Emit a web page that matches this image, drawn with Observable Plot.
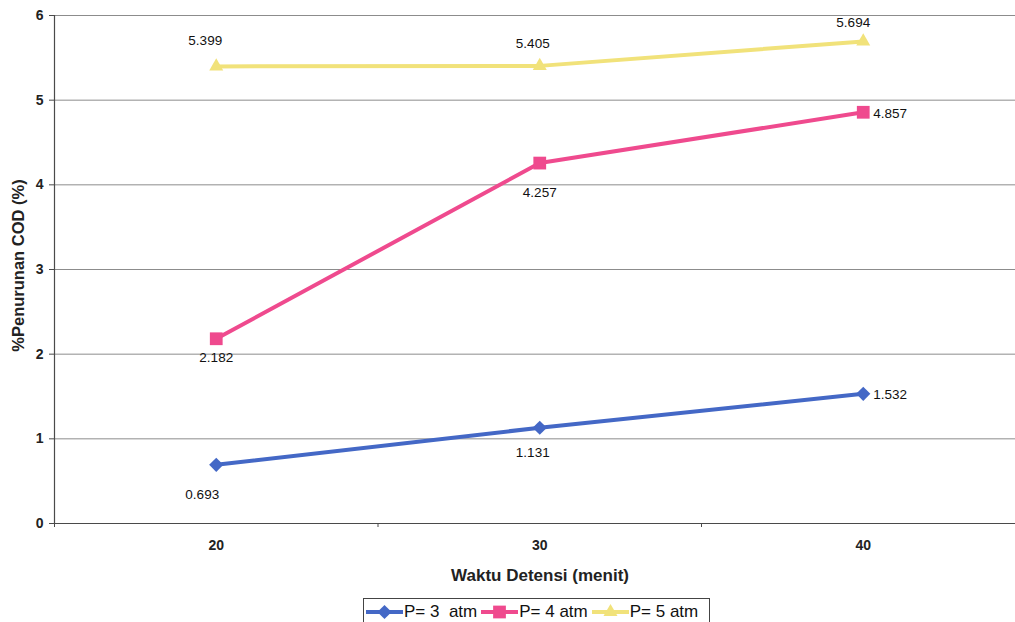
<!DOCTYPE html>
<html>
<head>
<meta charset="utf-8">
<script src="https://cdn.jsdelivr.net/npm/d3@7"></script>
<script src="https://cdn.jsdelivr.net/npm/@observablehq/plot@0.6"></script>
<style>
  body { margin: 0; background: #fff; font-family: "Liberation Sans", Arial, sans-serif; }
  #wrap { position: relative; width: 1015px; height: 622px; overflow: hidden; }
  #legend {
    position: absolute; left: 363px; top: 598px; height: 30px;
    border: 1px solid #444; display: flex; align-items: center;
    padding: 0 0 3px 1px; box-sizing: border-box; width: 347px;
    font-size: 17px; color: #111; white-space: pre;
  }
  #legend .item { display: flex; align-items: center; margin-right: 3px; }
  #legend svg { display: block; }
</style>
</head>
<body>
<div id="wrap">
  <div id="chart"></div>
  <div id="legend"></div>
</div>
<script>
// Waktu detensi (menit) on the x axis
const waktu = [20, 30, 40];
// Series names, one per tekanan
const seriesNames = ["P= 3  atm", "P= 4 atm", "P= 5 atm"];
// % Penurunan COD per series
const p3 = [0.693, 1.131, 1.532];
const p4 = [2.182, 4.257, 4.857];
const p5 = [5.399, 5.405, 5.694];
const yTicks = [0, 1, 2, 3, 4, 5, 6];

// Presentation
const colors = ["#4468c6", "#ef4a8e", "#f1e27a"];
const symbols = ["diamond2", "square", "triangle"];
const symbolR = [6.4, 7.2, 5.2];
// label offsets [dx, dy] and anchor for each data label
const labelOffsets = [
  [[-14, 30, "middle"], [-7, 25, "middle"], [10, 1, "start"]],
  [[0, 19, "middle"], [0, 30, "middle"], [10, 1, "start"]],
  [[-11, -26, "middle"], [-7, -22, "middle"], [-10, -19, "middle"]]
];

const values = [p3, p4, p5];
const rows = [];
values.forEach((vals, s) => {
  vals.forEach((v, i) => {
    rows.push({ waktu: waktu[i], value: v, series: seriesNames[s], s, i });
  });
});

// Category layout: each time value sits in the middle of its own slot
const step = waktu[1] - waktu[0];
const xDomain = [waktu[0] - step / 2, waktu[waktu.length - 1] + step / 2];
const edges = waktu.map(w => w - step / 2);

const axisColor = "#4a4a4a";

const marks = [
  Plot.ruleY(yTicks, { stroke: "#8c8c8c", strokeWidth: 1 }),
  Plot.ruleY([0], { stroke: axisColor, strokeWidth: 1.2 }),
  Plot.ruleX([xDomain[0]], { stroke: axisColor, strokeWidth: 1.2 }),
  Plot.axisY({ ticks: yTicks, tickFormat: d3.format("d"), tickSize: 5, tickPadding: 6, label: null,
    stroke: axisColor, fontSize: 14, fontWeight: "bold", fill: "#222" }),
  Plot.axisX({ ticks: edges, tickSize: 4, tickFormat: () => "", label: null, stroke: axisColor }),
  Plot.axisX({ ticks: waktu, tickFormat: d3.format("d"), tickSize: 0, tickPadding: 17, label: null,
    fontSize: 14, fontWeight: "bold", fill: "#222" }),
  Plot.line(rows, { x: "waktu", y: "value", z: "series", stroke: "series", strokeWidth: 4,
    strokeLinejoin: "round" }),
  Plot.dot(rows, { x: "waktu", y: "value", symbol: "series", fill: "series", stroke: "none",
    r: d => symbolR[d.s] })
];

rows.forEach(r => {
  const [dx, dy, anchor] = labelOffsets[r.s][r.i];
  marks.push(Plot.text([r], {
    x: "waktu", y: "value", text: d => d.value.toFixed(3),
    dx, dy, textAnchor: anchor, fontSize: 13.5, fill: "#111", lineAnchor: "middle"
  }));
});

// Axis titles
marks.push(Plot.text(["Waktu Detensi (menit)"], {
  frameAnchor: "bottom", dy: 52, dx: 5, fontSize: 17, fontWeight: "bold", fill: "#222",
  textAnchor: "middle", lineAnchor: "middle"
}));
marks.push(Plot.text(["%Penurunan COD (%)"], {
  frameAnchor: "left", dx: -36, dy: -4, rotate: -90, fontSize: 16.5, fontWeight: "bold", fill: "#222",
  textAnchor: "middle", lineAnchor: "middle"
}));

const chart = Plot.plot({
  width: 1015,
  height: 592,
  marginTop: 15,
  marginBottom: 69,
  marginLeft: 54,
  marginRight: 0,
  style: { fontFamily: "Liberation Sans, Arial, sans-serif", background: "#fff", overflow: "visible" },
  x: { type: "linear", domain: xDomain, range: [54, 1024.5] },
  y: { domain: [0, 6] },
  color: { domain: seriesNames, range: colors },
  symbol: { domain: seriesNames, range: symbols },
  r: { type: "identity" },
  marks
});
document.getElementById("chart").appendChild(chart);

// Legend below the chart
const legend = d3.select("#legend");
seriesNames.forEach((name, s) => {
  const item = legend.append("div").attr("class", "item");
  const svg = item.append("svg").attr("width", 39).attr("height", 18);
  svg.append("line").attr("x1", 1).attr("x2", 38).attr("y1", 9).attr("y2", 9)
    .attr("stroke", colors[s]).attr("stroke-width", 4);
  const symType = { diamond2: d3.symbolDiamond2, square: d3.symbolSquare, triangle: d3.symbolTriangle }[symbols[s]];
  svg.append("path")
    .attr("d", d3.symbol(symType, Math.PI * symbolR[s] * symbolR[s])())
    .attr("transform", "translate(19.5,9)")
    .attr("fill", colors[s]);
  item.append("span").text(name);
});
</script>
</body>
</html>
